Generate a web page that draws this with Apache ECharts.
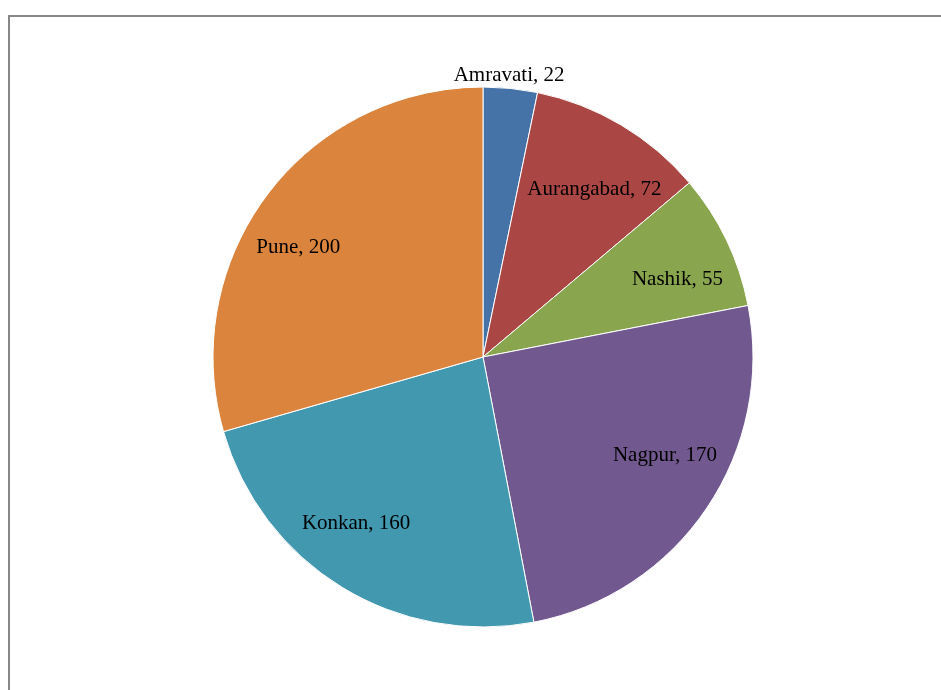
<!DOCTYPE html>
<html>
<head>
<meta charset="utf-8">
<script src="https://cdn.jsdelivr.net/npm/echarts@6/dist/echarts.min.js"></script>
<style>html,body{margin:0;padding:0;background:#fff}#c{width:941px;height:690px}</style>
</head>
<body>
<div id="c"></div>
<script>
const categories = ['Amravati', 'Aurangabad', 'Nashik', 'Nagpur', 'Konkan', 'Pune'];
const values = [22, 72, 55, 170, 160, 200];
const colors = ['#4572A7', '#AA4643', '#89A54E', '#71588F', '#4198AF', '#DB843D'];
// label fine-tuning offsets (styling only)
const labelOffsets = [[-3, 3], [4, 13], [5, 13], [8, -19], [-17, -12], [-17, 17]];

const chart = echarts.init(document.getElementById('c'), null, {renderer: 'canvas'});
const font = {fontFamily: '"Liberation Serif", "Times New Roman", serif', fontSize: 21, color: '#000'};
const center = [483, 357];

const mainData = categories.map((n, i) => ({name: n, value: values[i], itemStyle: {color: colors[i]}}));
const innerLabelData = categories.map((n, i) => ({
  name: n, value: values[i],
  label: {show: i !== 0, offset: labelOffsets[i]}
}));
const outerLabelData = categories.map((n, i) => ({
  name: n, value: values[i],
  label: {show: i === 0, offset: labelOffsets[i]}
}));
const overlayCommon = {
  type: 'pie', center: center, startAngle: 90, clockwise: true, silent: true,
  avoidLabelOverlap: false, animation: false,
  itemStyle: {color: 'rgba(0,0,0,0)', borderWidth: 0},
  emphasis: {disabled: true},
  labelLine: {show: false},
  label: Object.assign({position: 'inside', formatter: '{b}, {c}'}, font)
};

chart.setOption({
  backgroundColor: '#fff',
  graphic: [{
    type: 'rect', shape: {x: 9, y: 16, width: 1200, height: 1200},
    style: {fill: 'none', stroke: '#878787', lineWidth: 2}, silent: true, z: 10
  }],
  series: [
    {
      type: 'pie', center: center, radius: 270, startAngle: 90, clockwise: true,
      animation: false, silent: true,
      itemStyle: {borderColor: '#fff', borderWidth: 1},
      label: {show: false}, labelLine: {show: false},
      emphasis: {disabled: true},
      data: mainData
    },
    Object.assign({}, overlayCommon, {radius: [144, 270], data: innerLabelData}),
    Object.assign({}, overlayCommon, {radius: [270, 296], data: outerLabelData})
  ]
});
</script>
</body>
</html>
